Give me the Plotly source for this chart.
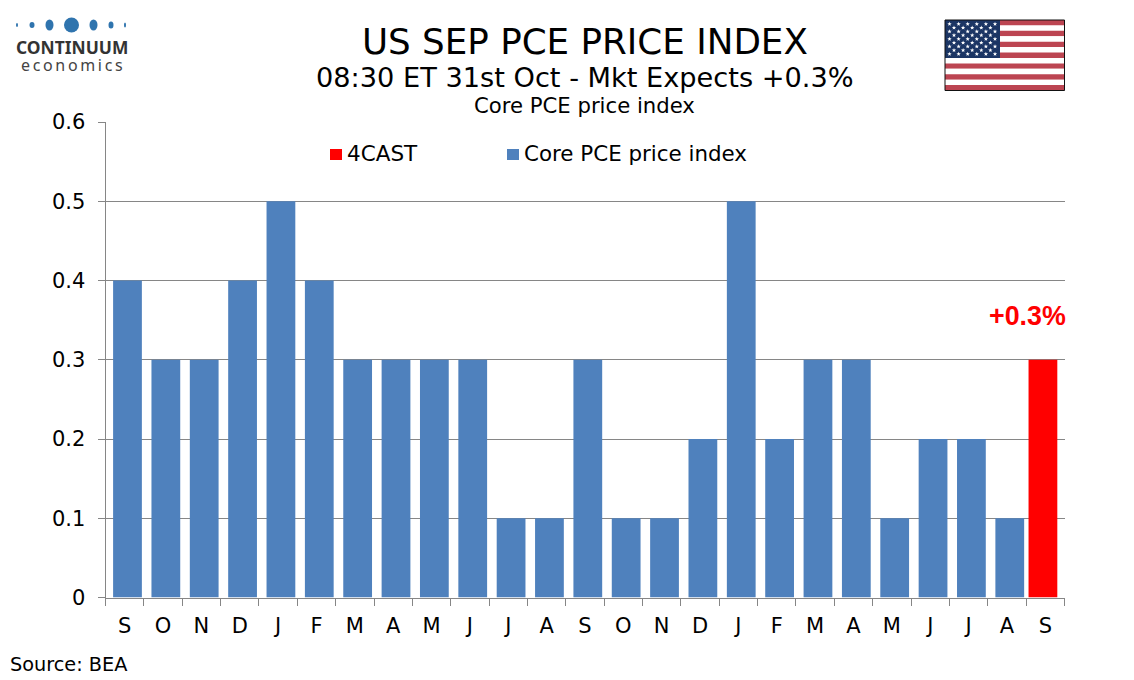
import math
import plotly.graph_objects as go

W, H = 1134, 680
months = ["S","O","N","D","J","F","M","A","M","J","J","A","S","O","N","D","J","F","M","A","M","J","J","A","S"]
core = [0.4,0.3,0.3,0.4,0.5,0.4,0.3,0.3,0.3,0.3,0.1,0.1,0.3,0.1,0.1,0.2,0.5,0.2,0.3,0.3,0.1,0.2,0.2,0.1,None]
forecast = [None]*24 + [0.3]
y_ticks = [0,0.1,0.2,0.3,0.4,0.5,0.6]
y_labels = ["0","0.1","0.2","0.3","0.4","0.5","0.6"]
positions = list(range(len(months)))

FONT = "DejaVu Sans"
PL, PR, PT, PB = 105.5, 1064.5, 122, 597.5
def px(x): return x / W
def py(y): return 1 - y / H

fig = go.Figure()
fig.add_trace(go.Bar(x=positions, y=forecast, name="4CAST", marker=dict(color="#FF0000", line=dict(width=0)),
                     width=0.75, offset=-0.4375, showlegend=False))
fig.add_trace(go.Bar(x=positions, y=core, name="Core PCE price index", marker=dict(color="#4F81BD", line=dict(width=0)),
                     width=0.75, offset=-0.302, showlegend=False))

shapes = []
annots = []
def text(x, y, t, size, color="#000000", family=FONT, anchor="left", bold=False):
    annots.append(dict(xref="paper", yref="paper", x=px(x), y=py(y), text=f"<b>{t}</b>" if bold else t,
                       showarrow=False, xanchor=anchor, yanchor="middle",
                       font=dict(family=family, size=size, color=color)))
def rect(x0, y0, x1, y1, fill, line=None, lw=0):
    shapes.append(dict(type="rect", xref="paper", yref="paper", x0=px(x0), x1=px(x1), y0=py(y0), y1=py(y1),
                       fillcolor=fill, line=dict(color=line or fill, width=lw), layer="above"))

rect(330, 149, 342, 160, "#FF0000")
rect(507, 149, 519, 160, "#4F81BD")
text(345, 153.5, "4CAST", 21.5)
text(521.5, 153.5, "Core PCE price index", 21.4)

text(584.5, 41, "US SEP PCE PRICE INDEX", 35.7, anchor="center")
text(584.5, 77, "08:30 ET 31st Oct - Mkt Expects +0.3%", 27.2, anchor="center")
text(584.5, 105.5, "Core PCE price index", 21.2, anchor="center")
text(8, 664, "Source: BEA", 19.3)
text(1068, 316, "+0.3%", 26.8, color="#FF0000", family="Liberation Sans", anchor="right", bold=True)

# logo
for cx, rx, ry in [(17,1,2),(32,2.5,3),(49.5,4,5.5),(71.5,7.5,7.5),(93.5,4,5.5),(111,2.5,3.5),(125,1,2.5)]:
    shapes.append(dict(type="circle", xref="paper", yref="paper", x0=px(cx-rx), x1=px(cx+rx),
                       y0=py(25-ry), y1=py(25+ry), fillcolor="#2F74AE", line=dict(width=0), layer="above"))
text(72, 47, "CONTINUUM", 17.4, color="#333333", family="Noto Sans", anchor="center", bold=True)
text(72, 65, "e\u2009c\u2009o\u2009n\u2009o\u2009m\u2009i\u2009c\u2009s", 16, color="#444444", family="Noto Sans", anchor="center")

# flag
FL, FR, FT, FB = 945, 1064.5, 20, 90.5
sh = (FB - FT) / 13
for i in range(13):
    rect(FL, FT + i*sh, FR, FT + (i+1)*sh, "#BC4552" if i % 2 == 0 else "#FFFFFF")
rect(FL, FT, 1000, FT + 7*sh, "#1B3564")
shapes.append(dict(type="rect", xref="paper", yref="paper", x0=px(FL), x1=px(FR), y0=py(FT), y1=py(FB),
                   line=dict(color="#111111", width=1), fillcolor="rgba(0,0,0,0)", layer="above"))
def star(cx, cy, R=2.3):
    pts = []
    for k in range(10):
        r = R if k % 2 == 0 else R * 0.42
        a = -math.pi/2 + k * math.pi/5
        pts.append((px(cx + r*math.cos(a)), py(cy + r*math.sin(a))))
    return "M" + " L".join(f"{a:.5f},{b:.5f}" for a, b in pts) + " Z"
for r in range(9):
    n = 6 if r % 2 == 0 else 5
    for c in range(n):
        sx = FL + 4.5 + c*9.1 + (0 if r % 2 == 0 else 4.5)
        sy = FT + 4 + r*3.75
        shapes.append(dict(type="path", xref="paper", yref="paper", path=star(sx, sy),
                           fillcolor="#FFFFFF", line=dict(width=0), layer="above"))

grey = "#868686"
fig.update_layout(
    width=W, height=H, autosize=False, margin=dict(l=0, r=0, t=0, b=0),
    paper_bgcolor="#FFFFFF", plot_bgcolor="#FFFFFF", barmode="overlay", showlegend=False,
    font=dict(family=FONT, color="#000000"), shapes=shapes, annotations=annots,
    xaxis=dict(domain=[px(PL), px(PR)], range=[-0.5, 24.5], tickmode="array", tickvals=positions, ticktext=months,
               automargin=False, ticks="", showgrid=False, zeroline=False, showline=True, linecolor=grey, linewidth=1,
               tickfont=dict(size=21, color="#000000"), ticklabelstandoff=9,
               minor=dict(tickmode="array", tickvals=[i-0.5 for i in range(26)], ticks="outside", ticklen=7, tickcolor=grey, tickwidth=1, showgrid=False)),
    yaxis=dict(domain=[py(PB), py(PT)], range=[0, 0.6], tickmode="array", tickvals=y_ticks, ticktext=y_labels,
               automargin=False, ticks="outside", ticklen=7, tickcolor=grey, showgrid=True, gridcolor=grey, gridwidth=1,
               ticklabelstandoff=8, zeroline=False, showline=True, linecolor=grey, linewidth=1, tickfont=dict(size=21, color="#000000")),
)
fig.write_html("out.html", config=dict(displayModeBar=False), post_script="document.body.style.margin='0';")
